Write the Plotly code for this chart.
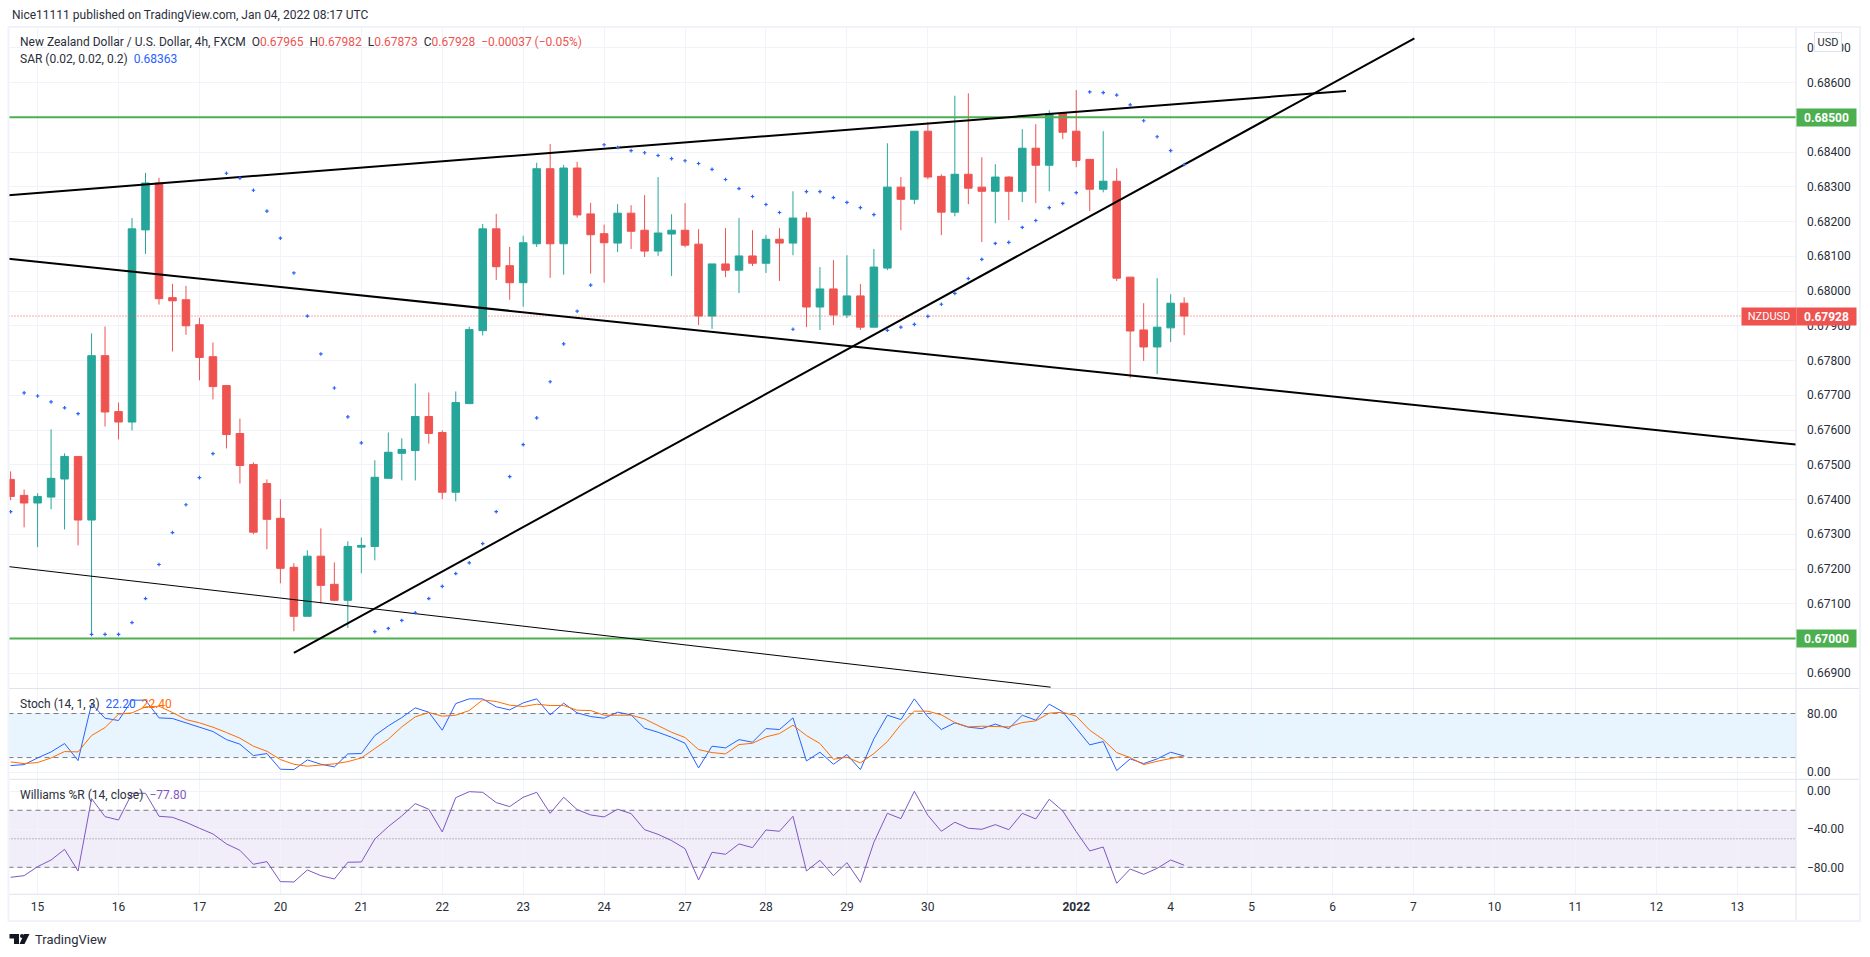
import plotly.graph_objects as go
from plotly.subplots import make_subplots

W = 1870
H = 957

# 4h bars, position 0 is the Dec 15 00:00 bar
bar_idx = list(range(-2, 86))
opens = [0.67458, 0.67412, 0.67390, 0.67407, 0.67459, 0.67524, 0.67341, 0.67814, 0.67653, 0.67623,
         0.68176, 0.68311, 0.67981, 0.67975, 0.67903, 0.67811, 0.67728, 0.67590, 0.67501, 0.67446,
         0.67346, 0.67205, 0.67064, 0.67237, 0.67156, 0.67110, 0.67263, 0.67265, 0.67461, 0.67533,
         0.67541, 0.67639, 0.67593, 0.67421, 0.67676, 0.67886, 0.68179, 0.68073, 0.68024, 0.68136,
         0.68352, 0.68136, 0.68354, 0.68222, 0.68165, 0.68138, 0.68224, 0.68175, 0.68115, 0.68164,
         0.68175, 0.68135, 0.67928, 0.68078, 0.68060, 0.68101, 0.68080, 0.68149, 0.68138, 0.68210,
         0.67954, 0.68006, 0.67931, 0.67986, 0.67896, 0.68066, 0.68299, 0.68264, 0.68460, 0.68330,
         0.68227, 0.68336, 0.68299, 0.68287, 0.68328, 0.68287, 0.68411, 0.68362, 0.68511, 0.68460,
         0.68379, 0.68293, 0.68316, 0.68040, 0.67888, 0.67839, 0.67894, 0.67965]
highs = [0.67481, 0.67429, 0.67418, 0.67602, 0.67533, 0.67524, 0.67878, 0.67898, 0.67679, 0.68210,
         0.68340, 0.68326, 0.68021, 0.68015, 0.67923, 0.67852, 0.67728, 0.67633, 0.67507, 0.67458,
         0.67401, 0.67217, 0.67254, 0.67317, 0.67219, 0.67280, 0.67291, 0.67513, 0.67593, 0.67576,
         0.67734, 0.67708, 0.67599, 0.67711, 0.67897, 0.68193, 0.68222, 0.68127, 0.68159, 0.68369,
         0.68423, 0.68363, 0.68372, 0.68254, 0.68191, 0.68250, 0.68247, 0.68276, 0.68328, 0.68221,
         0.68253, 0.68178, 0.68078, 0.68181, 0.68210, 0.68175, 0.68161, 0.68181, 0.68287, 0.68227,
         0.68069, 0.68089, 0.68103, 0.68020, 0.68121, 0.68425, 0.68328, 0.68460, 0.68486, 0.68336,
         0.68562, 0.68569, 0.68385, 0.68365, 0.68330, 0.68466, 0.68480, 0.68520, 0.68511, 0.68578,
         0.68379, 0.68460, 0.68353, 0.68040, 0.67965, 0.68037, 0.67991, 0.67982]
lows = [0.67398, 0.67320, 0.67263, 0.67372, 0.67314, 0.67268, 0.67013, 0.67610, 0.67573, 0.67599,
        0.68107, 0.67961, 0.67826, 0.67874, 0.67743, 0.67688, 0.67547, 0.67446, 0.67300, 0.67257,
        0.67159, 0.67021, 0.67064, 0.67101, 0.67107, 0.67030, 0.67188, 0.67225, 0.67461, 0.67455,
        0.67455, 0.67561, 0.67401, 0.67395, 0.67676, 0.67872, 0.68032, 0.67975, 0.67955, 0.68127,
        0.68038, 0.68047, 0.68211, 0.68050, 0.68024, 0.68112, 0.68121, 0.68098, 0.68101, 0.68043,
        0.68126, 0.67902, 0.67891, 0.68040, 0.67994, 0.68072, 0.68052, 0.68029, 0.68103, 0.67896,
        0.67888, 0.67902, 0.67922, 0.67888, 0.67896, 0.68060, 0.68175, 0.68250, 0.68322, 0.68161,
        0.68215, 0.68250, 0.68141, 0.68195, 0.68204, 0.68256, 0.68253, 0.68287, 0.68437, 0.68356,
        0.68230, 0.68284, 0.68029, 0.67750, 0.67799, 0.67761, 0.67853, 0.67873]
closes = [0.67409, 0.67390, 0.67409, 0.67461, 0.67524, 0.67341, 0.67814, 0.67652, 0.67623, 0.68179,
          0.68311, 0.67978, 0.67972, 0.67900, 0.67809, 0.67725, 0.67587, 0.67498, 0.67306, 0.67343,
          0.67202, 0.67064, 0.67237, 0.67153, 0.67110, 0.67265, 0.67268, 0.67464, 0.67536, 0.67544,
          0.67639, 0.67590, 0.67421, 0.67679, 0.67889, 0.68179, 0.68070, 0.68024, 0.68139, 0.68352,
          0.68136, 0.68354, 0.68219, 0.68162, 0.68139, 0.68224, 0.68172, 0.68115, 0.68167, 0.68175,
          0.68132, 0.67928, 0.68078, 0.68060, 0.68101, 0.68080, 0.68149, 0.68138, 0.68210, 0.67954,
          0.68006, 0.67931, 0.67986, 0.67896, 0.68069, 0.68299, 0.68264, 0.68460, 0.68328, 0.68227,
          0.68336, 0.68296, 0.68287, 0.68328, 0.68287, 0.68411, 0.68362, 0.68511, 0.68457, 0.68376,
          0.68293, 0.68316, 0.68037, 0.67885, 0.67839, 0.67896, 0.67965, 0.67928]

sar = [0.67365, 0.67707, 0.67698, 0.67681, 0.67664, 0.67647, 0.67012, 0.67012, 0.67012, 0.67046,
       0.67115, 0.67213, 0.67305, 0.67385, 0.67463, 0.67532, 0.68339, 0.68325, 0.68290, 0.68230,
       0.68152, 0.68052, 0.67928, 0.67819, 0.67721, 0.67638, 0.67563, 0.67020, 0.67029, 0.67052,
       0.67074, 0.67115, 0.67150, 0.67187, 0.67218, 0.67273, 0.67365, 0.67466, 0.67558, 0.67635,
       0.67739, 0.67848, 0.67942, 0.68017, 0.68421, 0.68413, 0.68404, 0.68398, 0.68390, 0.68381,
       0.68375, 0.68367, 0.68350, 0.68321, 0.68295, 0.68272, 0.68249, 0.68226, 0.67890, 0.68286,
       0.68286, 0.68269, 0.68255, 0.68240, 0.68220, 0.67887, 0.67896, 0.67904, 0.67927, 0.67962,
       0.67993, 0.68036, 0.68091, 0.68137, 0.68140, 0.68183, 0.68203, 0.68240, 0.68252, 0.68283,
       0.68573, 0.68571, 0.68564, 0.68536, 0.68490, 0.68444, 0.68404, 0.68364]

stoch_k = [9.1, 10.4, 19.5, 27.7, 39.1, 15.9, 93.2, 73.6, 70.5, 98.2,
           98.2, 74.1, 73.2, 67.3, 60.9, 55.5, 44.5, 38.2, 22.7, 25.5,
           4.1, 3.6, 16.8, 10.9, 7.3, 25.0, 25.5, 50.0, 63.2, 74.5,
           87.7, 81.8, 57.3, 93.6, 100.0, 99.9, 89.1, 85.0, 94.5, 100.0,
           78.2, 94.1, 80.9, 75.9, 73.6, 81.8, 78.2, 60.0, 54.5, 47.7,
           39.5, 5.9, 35.5, 33.2, 44.5, 40.9, 59.5, 58.2, 74.1, 15.4,
           27.3, 10.9, 24.1, 3.6, 45.5, 77.7, 71.8, 100.0, 75.5, 58.2,
           67.3, 61.4, 59.5, 65.5, 59.5, 77.7, 70.9, 92.7, 82.3, 59.5,
           37.3, 41.8, 2.3, 18.2, 11.8, 18.2, 27.3, 22.2]
stoch_d = [14.1, 11.8, 13.2, 19.5, 28.2, 27.7, 50.0, 60.9, 79.1, 80.9,
           89.1, 90.0, 81.4, 71.8, 67.3, 61.4, 54.1, 46.4, 35.5, 28.6,
           17.3, 10.9, 8.2, 9.5, 11.4, 14.5, 19.5, 32.3, 45.0, 61.8,
           75.5, 81.4, 76.4, 77.7, 84.1, 98.6, 96.4, 91.4, 89.5, 92.7,
           90.9, 90.9, 84.5, 84.1, 77.7, 77.7, 77.7, 72.7, 64.1, 54.5,
           47.3, 30.9, 26.8, 25.0, 37.7, 39.5, 48.2, 52.7, 64.1, 50.0,
           39.1, 17.7, 20.5, 12.7, 25.5, 41.8, 65.0, 83.2, 83.2, 78.2,
           67.7, 61.8, 62.7, 61.8, 61.8, 67.7, 70.0, 80.5, 81.8, 76.4,
           57.3, 44.5, 26.8, 20.0, 10.4, 15.0, 19.1, 22.4]
williams = [-90.5, -88.8, -79.3, -72.3, -61.1, -83.9, -7.7, -26.7, -30.2, -2.1,
            -2.1, -26.3, -27.4, -32.6, -38.9, -44.9, -55.4, -62.1, -76.8, -74.0,
            -95.1, -95.4, -82.8, -88.8, -92.3, -74.7, -74.4, -50.2, -37.2, -26.0,
            -13.0, -18.9, -42.8, -6.7, -0.4, -1.1, -11.9, -16.1, -6.3, -1.1,
            -23.2, -6.3, -19.3, -24.9, -27.0, -18.9, -23.5, -40.4, -45.3, -51.9,
            -60.4, -93.3, -64.2, -66.3, -55.4, -59.3, -40.7, -42.1, -26.3, -83.9,
            -72.6, -88.8, -75.1, -95.8, -53.7, -23.2, -28.8, 0.0, -25.3, -42.1,
            -32.6, -38.9, -40.0, -35.1, -40.4, -23.2, -29.1, -8.4, -20.7, -42.5,
            -62.8, -58.6, -96.8, -81.8, -87.4, -81.1, -72.3, -77.8]

# hand drawn trend lines, [bar position], [price]
upper_x = [-2.157, 97.0]
upper_y = [0.68276, 0.68576]
rising_x = [19.0, 102.07]
rising_y = [0.66959, 0.68727]
falling_x = [-2.157, 130.36]
falling_y = [0.68093, 0.67558]
thin_x = [-2.157, 75.1]
thin_y = [0.67207, 0.66860]
levels = [0.68500, 0.67000]
last_price = 0.67928
stoch_bands = [80, 20]
williams_bands = [-20, -80]
williams_mid = -50

tick_pos = [0, 6, 12, 18, 24, 30, 36, 42, 48, 54, 60, 66, 77, 84, 90, 96, 102, 108, 114, 120, 126]
tick_lab = ['15', '16', '17', '20', '21', '22', '23', '24', '27', '28', '29', '30', '<b>2022</b>',
            '4', '5', '6', '7', '10', '11', '12', '13']
price_ticks = [0.669 + i * 0.001 for i in range(19)]
price_labels = ['%.5f' % p for p in price_ticks]

FONT = 'Roboto'
TEXT = '#2a2e39'
GRID = '#f0f3fa'
EDGE = '#e0e3eb'
UP = '#26a69a'
DOWN = '#ef5350'
GREEN = '#4caf50'
BLUE = '#2962ff'
ORANGE = '#ff6d00'
PURPLE = '#7e57c2'
HLINE = '#787b86'
X_RANGE = [-2.157, 130.36]


def px(x):
    return x / W


def py(y):
    return 1 - y / H


fig = make_subplots(rows=3, cols=1, shared_xaxes=True, vertical_spacing=0)

# price panel
fig.add_trace(go.Candlestick(x=bar_idx, open=opens, high=highs, low=lows, close=closes,
                             whiskerwidth=0,
                             increasing=dict(line=dict(color=UP, width=1), fillcolor=UP),
                             decreasing=dict(line=dict(color=DOWN, width=1), fillcolor=DOWN)),
              row=1, col=1)
fig.add_trace(go.Scatter(x=X_RANGE, y=[last_price, last_price], mode='lines',
                         line=dict(color=DOWN, width=1, dash='1px,2px')), row=1, col=1)
for lvl in levels:
    fig.add_trace(go.Scatter(x=X_RANGE, y=[lvl, lvl], mode='lines',
                             line=dict(color=GREEN, width=2)), row=1, col=1)
fig.add_trace(go.Scatter(x=upper_x, y=upper_y, mode='lines', line=dict(color='black', width=2)), row=1, col=1)
fig.add_trace(go.Scatter(x=rising_x, y=rising_y, mode='lines', line=dict(color='black', width=2)), row=1, col=1)
fig.add_trace(go.Scatter(x=falling_x, y=falling_y, mode='lines', line=dict(color='black', width=2)), row=1, col=1)
fig.add_trace(go.Scatter(x=thin_x, y=thin_y, mode='lines', line=dict(color='black', width=1)), row=1, col=1)
fig.add_trace(go.Scatter(x=bar_idx, y=sar, mode='markers',
                         marker=dict(symbol='cross', size=3, color=BLUE, line=dict(width=0))), row=1, col=1)

# oscillators, level lines go first so they stay under the curves
for lvl in stoch_bands:
    fig.add_trace(go.Scatter(x=X_RANGE, y=[lvl, lvl], mode='lines',
                             line=dict(color=HLINE, width=1, dash='5px,4px')), row=2, col=1)
for lvl in williams_bands:
    fig.add_trace(go.Scatter(x=X_RANGE, y=[lvl, lvl], mode='lines',
                             line=dict(color=HLINE, width=1, dash='5px,4px')), row=3, col=1)
fig.add_trace(go.Scatter(x=X_RANGE, y=[williams_mid, williams_mid], mode='lines',
                         line=dict(color=HLINE, width=1, dash='1px,2px')), row=3, col=1)
fig.add_trace(go.Scatter(x=bar_idx, y=stoch_k, mode='lines', line=dict(color=BLUE, width=1)), row=2, col=1)
fig.add_trace(go.Scatter(x=bar_idx, y=stoch_d, mode='lines', line=dict(color=ORANGE, width=1)), row=2, col=1)
fig.add_trace(go.Scatter(x=bar_idx, y=williams, mode='lines', line=dict(color=PURPLE, width=1)), row=3, col=1)

x_dom = [px(8.5), px(1796)]
for i in ['', '2', '3']:
    fig.update_layout({'xaxis' + i: dict(domain=x_dom, range=X_RANGE, tickmode='array', tickvals=tick_pos,
                                         ticktext=tick_lab, showgrid=True, gridcolor=GRID, gridwidth=1,
                                         zeroline=False, showline=False, ticks='',
                                         showticklabels=(i == '3'), rangeslider=dict(visible=False))})
fig.update_xaxes(ticklabelstandoff=4, tickfont=dict(family=FONT, size=12, color=TEXT), row=3, col=1)

y_common = dict(side='right', showgrid=True, gridcolor=GRID, gridwidth=1, zeroline=False, showline=False,
                ticks='', ticklabelstandoff=10, tickmode='array', tickfont=dict(family=FONT, size=12, color=TEXT))
fig.update_layout(
    yaxis=dict(domain=[py(688.5), py(27.5)], range=[0.668562, 0.687584],
               tickvals=price_ticks, ticktext=price_labels, **y_common),
    yaxis2=dict(domain=[py(779.3), py(688.5)], range=[-9.6, 114.1],
                tickvals=[0, 80], ticktext=['0.00', '80.00'], **y_common),
    yaxis3=dict(domain=[py(894.3), py(779.3)], range=[-108.4, 12.6],
                tickvals=[0, -40, -80], ticktext=['0.00', '\u221240.00', '\u221280.00'], **y_common),
)

shapes = []
# indicator bands
shapes.append(dict(type='rect', xref='x2', yref='y2', x0=X_RANGE[0], x1=X_RANGE[1],
                   y0=stoch_bands[1], y1=stoch_bands[0],
                   fillcolor='rgba(33,150,243,0.1)', line=dict(width=0), layer='below'))
shapes.append(dict(type='rect', xref='x3', yref='y3', x0=X_RANGE[0], x1=X_RANGE[1],
                   y0=williams_bands[1], y1=williams_bands[0],
                   fillcolor='rgba(126,87,194,0.1)', line=dict(width=0), layer='below'))
# frame and panel separators
for y in [688.5, 779.3, 894.3]:
    shapes.append(dict(type='line', xref='paper', yref='paper', x0=px(8.5), x1=px(1860), y0=py(y), y1=py(y),
                       line=dict(color=EDGE, width=1)))
shapes.append(dict(type='line', xref='paper', yref='paper', x0=px(1796), x1=px(1796), y0=py(27), y1=py(921),
                   line=dict(color=EDGE, width=1)))
shapes.append(dict(type='rect', xref='paper', yref='paper', x0=px(8.5), x1=px(1860), y0=py(921), y1=py(27),
                   line=dict(color=GRID, width=2)))


# TradingView logo
def poly(points):
    return 'M ' + ' L '.join('%f %f' % (px(a), py(b)) for a, b in points) + ' Z'


shapes.append(dict(type='path', xref='paper', yref='paper', fillcolor='#131722', line=dict(width=0),
                   path=poly([(9.5, 934), (19, 934), (19, 944), (14, 944), (14, 938.5), (9.5, 938.5)])))
shapes.append(dict(type='path', xref='paper', yref='paper', fillcolor='#131722', line=dict(width=0),
                   path=poly([(24, 934), (29.5, 934), (24.5, 944), (19.5, 944)])))
shapes.append(dict(type='circle', xref='paper', yref='paper', fillcolor='#131722', line=dict(width=0),
                   x0=px(20), x1=px(24), y0=py(938), y1=py(934)))
fig.update_layout(shapes=shapes)

R = '#ef5350'
notes = [
    (10, 15, 'Nice11111 published on TradingView.com, Jan 04, 2022 08:17 UTC', 12, TEXT),
    (18, 41.5, 'New Zealand Dollar / U.S. Dollar, 4h, FXCM'
               '  O<span style="color:%s">0.67965</span>  H<span style="color:%s">0.67982</span>'
               '  L<span style="color:%s">0.67873</span>  C<span style="color:%s">0.67928</span>'
               '  <span style="color:%s">\u22120.00037 (\u22120.05%%)</span>' % (R, R, R, R, R), 12, TEXT),
    (18, 58.5, 'SAR (0.02, 0.02, 0.2)  <span style="color:%s">0.68363</span>' % BLUE, 12, TEXT),
    (18, 703.5, 'Stoch (14, 1, 3)  <span style="color:%s">22.20</span>  <span style="color:%s">22.40</span>'
     % (BLUE, ORANGE), 12, TEXT),
    (18, 795, 'Williams %%R (14, close)  <span style="color:%s">\u221277.80</span>' % PURPLE, 12, TEXT),
    (33, 939, 'TradingView', 13, TEXT),
]
for x, y, text, size, color in notes:
    fig.add_annotation(xref='paper', yref='paper', x=px(x), y=py(y), xanchor='left', yanchor='middle',
                       text=text, showarrow=False, align='left', font=dict(family=FONT, size=size, color=color))

# USD box sits on top of the 0.68700 label, like the original
fig.add_annotation(xref='paper', yref='paper', x=px(1828.2), y=py(42.5), xanchor='center', yanchor='middle',
                   text='USD', showarrow=False, width=26, height=18, bgcolor='white', bordercolor=EDGE,
                   borderwidth=1, borderpad=0, font=dict(family=FONT, size=11, color=TEXT))

# tags on the price scale
tags = [(1796, 1855, 117.3, '<b>0.68500</b>', GREEN, 12), (1796, 1855, 638.5, '<b>0.67000</b>', GREEN, 12),
        (1796, 1855, 316.5, '<b>0.67928</b>', DOWN, 12), (1741, 1795, 316.5, 'NZDUSD', DOWN, 11)]
for x0, x1, y, text, color, size in tags:
    fig.add_annotation(xref='paper', yref='paper', x=px(x0), y=py(y), xanchor='left', yanchor='middle',
                       width=x1 - x0, height=17, bgcolor=color, borderpad=0, text=text, showarrow=False,
                       font=dict(family=FONT, size=size, color='white'))

fig.update_layout(width=W, height=H, margin=dict(l=0, r=0, t=0, b=0), autosize=False,
                  paper_bgcolor='white', plot_bgcolor='white', showlegend=False, boxgap=0.2,
                  font=dict(family=FONT, size=12, color=TEXT))

fig.write_html("out.html", post_script="document.body.style.margin='0';document.body.style.overflow='hidden';",
               config=dict(displayModeBar=False))
